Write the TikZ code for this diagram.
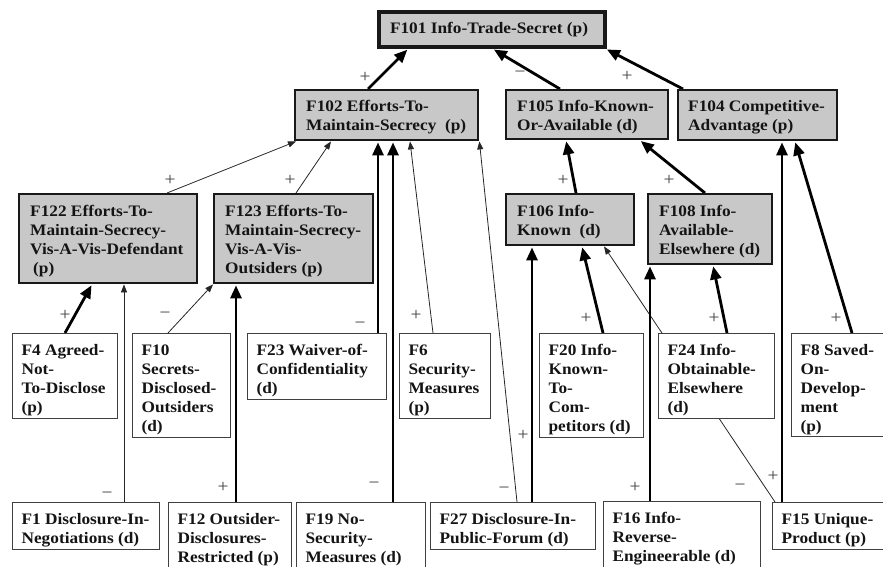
\documentclass[tikz,border=0pt]{standalone}
\usepackage{fontspec}
\setmainfont{Liberation Serif}[FakeStretch=1.08]
\usetikzlibrary{arrows.meta}
\pgfdeclarelayer{edges}
\pgfsetlayers{edges,main}
\definecolor{boxgray}{RGB}{200,200,200}
\definecolor{ink}{RGB}{20,20,20}
% name, style, left, top, width, height, x-inset, text
\newcommand\factnode[8]{%
  \node[#2, anchor=north west, inner xsep=#7pt, inner ysep=8.5pt] (#1) at (#3,#4)
  {\parbox[t][\dimexpr #6pt-17pt\relax][t]{\dimexpr #5pt-#7pt-#7pt\relax}{\raggedright\exhyphenpenalty=10000 \hyphenpenalty=10000 \strut #8}};}
\begin{document}
\begin{tikzpicture}[x=1pt,y=-1pt,
  font=\fontsize{16}{19}\selectfont\bfseries,
  gbox/.style={draw=black!90, line width=2.4pt, fill=boxgray, text=ink},
  tbox/.style={gbox, line width=4pt},
  wbox/.style={draw=black!75, line width=1.2pt, fill=white, text=ink},
  thk/.style={line width=2.8pt, -{Triangle[length=13pt,width=11pt]}, shorten >=1pt},
  thn/.style={line width=0.8pt, black!85, -{Triangle[length=8pt,width=6pt]}},
  sgn/.style={font=\fontsize{18}{18}\selectfont\mdseries, text=black!75, inner sep=0pt}]
\useasboundingbox (0,0) rectangle (883,567);

% top levels
\factnode{F101}{tbox}{377}{10}{226}{35}{11}{F101~Info-Trade-Secret~(p)}
\factnode{F102}{gbox}{294}{89}{183}{50}{11}{F102~Efforts-To-\\Maintain-Secrecy~~(p)}
\factnode{F105}{gbox}{505}{89}{162}{49}{11}{F105~Info-Known-\\Or-Available~(d)}
\factnode{F104}{gbox}{677}{89}{159}{50}{10}{F104~Competitive-\\Advantage~(p)}
\factnode{F122}{gbox}{18}{193}{178}{89}{11}{F122~Efforts-To-\\Maintain-Secrecy-\\Vis-A-Vis-Defendant\\\hspace*{3pt}(p)}
\factnode{F123}{gbox}{213}{193}{159}{89}{11}{F123~Efforts-To-\\Maintain-Secrecy-\\Vis-A-Vis-\\Outsiders~(p)}
\factnode{F106}{gbox}{505}{193}{128}{51}{11}{F106~Info-\\Known~~(d)}
\factnode{F108}{gbox}{647}{193}{124}{70}{11}{F108~Info-\\Available-\\Elsewhere~(d)}

% middle row
\factnode{F4}{wbox}{12}{333}{105}{85}{9}{F4~Agreed-\\Not-\\To-Disclose\\(p)}
\factnode{F10}{wbox}{132}{333}{98}{104}{9}{F10\\Secrets-\\Disclosed-\\Outsiders\\(d)}
\factnode{F23}{wbox}{247}{333}{139}{66}{9}{F23~Waiver-of-\\Confidentiality\\(d)}
\factnode{F6}{wbox}{399}{333}{91}{85}{9}{F6\\Security-\\Measures\\(p)}
\factnode{F20}{wbox}{539}{333}{104}{104}{9}{F20~Info-\\Known-\\To-\\Com-\\petitors~(d)}
\factnode{F24}{wbox}{658}{333}{116}{85}{9}{F24~Info-\\Obtainable-\\Elsewhere\\(d)}
\factnode{F8}{wbox}{791}{333}{100}{103}{9}{F8~Saved-\\On-\\Develop-\\ment\\(p)}

% bottom row
\factnode{F1}{wbox}{12}{502}{147}{47}{9}{F1~Disclosure-In-\\Negotiations~(d)}
\factnode{F12}{wbox}{168}{502}{123}{68}{9}{F12~Outsider-\\Disclosures-\\Restricted~(p)}
\factnode{F19}{wbox}{296}{502}{129}{68}{9}{F19~No-\\Security-\\Measures~(d)}
\factnode{F27}{wbox}{430}{502}{165}{47}{9}{F27~Disclosure-In-\\Public-Forum~(d)}
\factnode{F16}{wbox}{603}{501}{157}{69}{9}{F16~Info-\\Reverse-\\Engineerable~(d)}
\factnode{F15}{wbox}{772}{502}{119}{47}{9}{F15~Unique-\\Product~(p)}

\begin{pgfonlayer}{edges}
\draw[thk] ([xshift=74pt]F102.north west) -- ([xshift=31pt]F101.south west);
\draw[thk] ([xshift=55pt]F105.north west) -- ([xshift=116pt]F101.south west);
\draw[thk] ([xshift=6pt]F104.north west) -- ([xshift=-1pt]F101.south east);
\draw[thn] ([xshift=149pt]F122.north west) -- ([xshift=2pt]F102.south west);
\draw[thn] ([xshift=83pt]F123.north west) -- ([xshift=37pt]F102.south west);
\draw[thk] ([xshift=131pt]F23.north west) -- ([xshift=84pt]F102.south west);
\draw[thk] ([xshift=97pt]F19.north west) -- ([xshift=99pt]F102.south west);
\draw[thn] ([xshift=34pt]F6.north west) -- ([xshift=116pt]F102.south west);
\draw[thn] ([xshift=87pt]F27.north west) -- (F102.south east);
\draw[thk] ([xshift=71pt]F106.north west) -- ([xshift=61pt]F105.south west);
\draw[thk] ([xshift=58pt]F108.north west) -- ([xshift=135pt]F105.south west);
\draw[thk] ([xshift=10pt]F15.north west) -- ([xshift=105pt]F104.south west);
\draw[thk] ([xshift=61pt]F8.north west) -- ([xshift=118pt]F104.south west);
\draw[thk] ([xshift=53pt]F4.north west) -- ([xshift=74pt]F122.south west);
\draw[thn] ([xshift=112pt]F1.north west) -- ([xshift=106pt]F122.south west);
\draw[thn] ([xshift=36pt]F10.north west) -- (F123.south west);
\draw[thk] ([xshift=68pt]F12.north west) -- ([xshift=23pt]F123.south west);
\draw[thk] ([xshift=102pt]F27.north west) -- ([xshift=27pt]F106.south west);
\draw[thk] ([xshift=64pt]F20.north west) -- ([xshift=77pt]F106.south west);
\draw[thn] ([xshift=3pt]F15.north west) -- ([xshift=99pt]F106.south west);
\draw[thk] ([xshift=47pt]F16.north west) -- ([xshift=3pt]F108.south west);
\draw[thk] ([xshift=69pt]F24.north west) -- ([xshift=66pt]F108.south west);
\end{pgfonlayer}

% signs
\node[sgn] (s1) at (365,77) {+};
\node[sgn] (s2) at (520,74) {−};
\node[sgn] (s3) at (627,76) {+};
\node[sgn] (s4) at (170,180) {+};
\node[sgn] (s5) at (290,180) {+};
\node[sgn] (s6) at (563,180) {+};
\node[sgn] (s7) at (669,180) {+};
\node[sgn] (s8) at (65,315) {+};
\node[sgn] (s9) at (165,315) {−};
\node[sgn] (s10) at (360,325) {−};
\node[sgn] (s11) at (416,315) {+};
\node[sgn] (s12) at (586,318) {+};
\node[sgn] (s13) at (714,318) {+};
\node[sgn] (s14) at (836,318) {+};
\node[sgn] (s15) at (107,495) {−};
\node[sgn] (s16) at (223,487) {+};
\node[sgn] (s17) at (374,485) {−};
\node[sgn] (s18) at (504,490) {−};
\node[sgn] (s19) at (523,435) {+};
\node[sgn] (s20) at (635,487) {+};
\node[sgn] (s21) at (740,487) {−};
\node[sgn] (s22) at (773,476) {+};
\end{tikzpicture}
\end{document}
